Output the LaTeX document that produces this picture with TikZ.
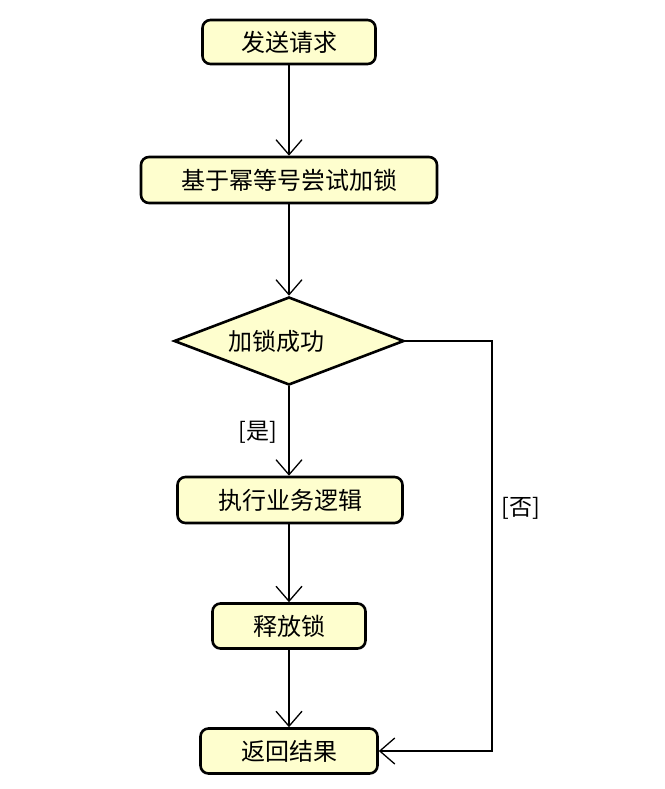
\documentclass[tikz,border=0pt]{standalone}
\usepackage{fontspec}
\setmainfont{Noto Sans CJK SC}
\usetikzlibrary{arrows.meta,shapes.geometric}
\definecolor{boxfill}{HTML}{FEFECE}
\tikzset{
  actbox/.style={draw=black, fill=boxfill, line width=2.6pt, rounded corners=8pt, inner sep=0pt, font=\fontsize{24}{28}\selectfont},
  decbox/.style={draw=black, fill=boxfill, line width=2.6pt, diamond, aspect=2.65, inner sep=0pt, font=\fontsize{24}{28}\selectfont},
  conn/.style={draw=black, line width=1.3pt, -{Straight Barb[length=15pt,width=26pt,line width=1.3pt]}},
  lbl/.style={font=\fontsize{23}{27}\selectfont, inner sep=0pt}
}
\begin{document}
\begin{tikzpicture}[x=1pt,y=-1pt]
\useasboundingbox (0,0) rectangle (664,789);
\node[actbox, minimum width=173pt, minimum height=44pt] (n1) at (289,42) {发送请求};
\node[actbox, minimum width=296pt, minimum height=46pt] (n2) at (289,180) {基于幂等号尝试加锁};
\node[decbox, minimum width=230pt, minimum height=88pt] (d) at (289,341) {\hspace*{-26pt}加锁成功};
\node[actbox, minimum width=225pt, minimum height=46pt] (n3) at (290,500) {执行业务逻辑};
\node[actbox, minimum width=153pt, minimum height=45pt] (n4) at (289,626) {释放锁};
\node[actbox, minimum width=177pt, minimum height=45pt] (n5) at (289,751) {返回结果};
\coordinate (c1) at (492,341);
\coordinate (c2) at (492,751);
\node[lbl] (yes) at (258,432) {[是]};
\node[lbl] (no) at (521,508) {[否]};
\draw[conn] (n1) -- (n2);
\draw[conn] (n2) -- (d);
\draw[conn] (d.south) -- (d.south |- n3.north);
\draw[conn] (n3.south -| n4) -- (n4);
\draw[conn] (n4) -- (n5);
\draw[conn] (d.east) -- (c1) -- (c2) -- (n5.east);
\end{tikzpicture}
\end{document}
